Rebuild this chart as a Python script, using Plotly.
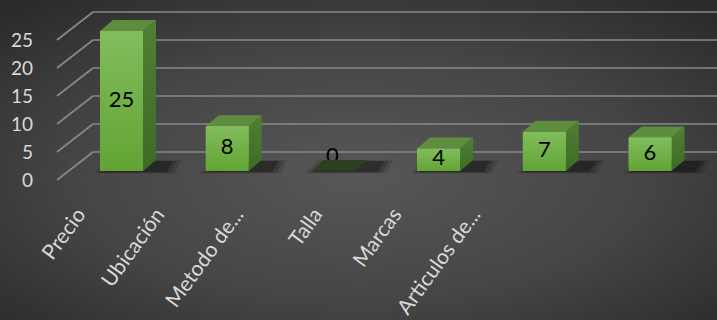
import base64
import plotly.graph_objects as go

# ---------------- data ----------------
categories = ["Precio", "Ubicación", "Metodo de...", "Talla", "Marcas", "Articulos de..."]
values = [25, 8, 0, 4, 7, 6]
y_ticks = [0, 5, 10, 15, 20, 25]

# ---------------- layout constants (pixels) ----------------
W, H = 717, 320
PL, PT, PB = 40, 0, 185          # plot area left / top / bottom pixel
K = 5.6                          # pixels per value unit
BASE = 171                       # pixel row of value 0 on the bar front plane
BAR_C0, BAR_STEP = 121.5, 105.7  # bar centre of first category, spacing
LAB_C0, LAB_STEP = 78, 79        # category label anchor, spacing (perspective)
BACK_L, FRONT_L = 93, 57         # left edge of back wall / front floor edge
FLOOR_BACK, FLOOR_FRONT = 152, 180
DX, DY = 13, 11                  # bar depth offset in pixels
BAR_W = 43

FONT = "Lato, Calibri, 'Open Sans', sans-serif"
TXT = "#d9d9d9"
GRID = "#888888"

y_range = [(BASE - PB) / K, (BASE - PT) / K]
x_range = [(PL - BAR_C0) / BAR_STEP, (W - BAR_C0) / BAR_STEP]
x2_range = [(PL - LAB_C0) / LAB_STEP, (W - LAB_C0) / LAB_STEP]

ddx = DX / BAR_STEP
ddy = DY / K
bw = BAR_W / BAR_STEP
back_off = (BASE - FLOOR_BACK) / K
front_off = (BASE - FLOOR_FRONT) / K


def paper_x(px):
    return (px - PL) / (W - PL)


fig = go.Figure()

idx = list(range(len(categories)))

# soft shadows on the floor (to the right / behind each bar)
for i, v in zip(idx, values):
    xl, xr = i - bw / 2, i + bw / 2
    for grow, alpha in [(0.08, 0.12), (0.04, 0.18), (0.0, 0.25)]:
        x0 = xl + 0.02 - grow
        x1 = xr + ddx + 0.16 + grow
        y0 = -0.2 - grow * 3
        y1 = ddy * 0.9 + grow * 2
        xs = [x0, x1 - 0.06, x1, x0 + ddx, x0]
        ys = [y0, y0, y1, y1, y0]
        fig.add_trace(go.Scatter(x=xs, y=ys, fill="toself", mode="none",
                                 fillcolor=f"rgba(0,0,0,{alpha})", hoverinfo="skip",
                                 showlegend=False))

# side and top faces
for i, v in zip(idx, values):
    xl, xr = i - bw / 2, i + bw / 2
    if v > 0:
        fig.add_trace(go.Scatter(
            x=[xr, xr, xr + ddx, xr + ddx, xr], y=[0, v, v + ddy, ddy, 0],
            fill="toself", mode="none", hoverinfo="skip", showlegend=False,
            fillgradient=dict(type="vertical", colorscale=[[0, "#3d6b27"], [1, "#4f8034"]])))
        top_col = "#5e8d40"
    else:
        top_col = "#2b4021"
    fig.add_trace(go.Scatter(
        x=[xl, xr, xr + ddx, xl + ddx, xl], y=[v, v, v + ddy, v + ddy, v],
        fill="toself", mode="none", fillcolor=top_col, hoverinfo="skip", showlegend=False))

# front faces (bars); only the zero bar carries its label outside
fig.add_trace(go.Bar(
    x=idx, y=values, width=bw,
    marker=dict(color="#6fac46", line=dict(width=0)),
    text=["" if v > 0 else str(v) for v in values],
    textposition="outside",
    constraintext="none",
    textfont=dict(family=FONT, size=22, color="#000000"),
    cliponaxis=False,
    hoverinfo="skip", showlegend=False))

# gradient on front faces
for i, v in zip(idx, values):
    if v <= 0:
        continue
    xl, xr = i - bw / 2, i + bw / 2
    fig.add_trace(go.Scatter(
        x=[xl, xr, xr, xl, xl], y=[0, 0, v, v, 0],
        fill="toself", mode="none", hoverinfo="skip", showlegend=False,
        fillgradient=dict(type="vertical",
                          colorscale=[[0, "rgba(98,164,52,1)"], [1, "rgba(129,189,92,1)"]])))

# data labels centred on the front faces
fig.add_trace(go.Scatter(
    x=[i for i, v in zip(idx, values) if v > 0],
    y=[v / 2 for v in values if v > 0],
    text=[str(v) for v in values if v > 0],
    mode="text", textposition="middle center",
    textfont=dict(family=FONT, size=22, color="#000000"),
    hoverinfo="skip", showlegend=False))

# grid: back wall lines and diagonal side lines
shapes = []
for t in y_ticks:
    shapes.append(dict(type="line", xref="paper", yref="y",
                       x0=paper_x(FRONT_L), y0=t + front_off,
                       x1=paper_x(BACK_L), y1=t + back_off,
                       line=dict(color=GRID, width=1.7), layer="below"))
    shapes.append(dict(type="line", xref="paper", yref="y",
                       x0=paper_x(BACK_L), y0=t + back_off,
                       x1=1, y1=t + back_off,
                       line=dict(color=GRID, width=1.7), layer="below"))

svg = ("<svg xmlns='http://www.w3.org/2000/svg' width='717' height='320' preserveAspectRatio='none'>"
       "<defs><radialGradient id='g' cx='50%' cy='55%' r='72%'>"
       "<stop offset='0' stop-color='#575757'/><stop offset='0.55' stop-color='#454545'/>"
       "<stop offset='1' stop-color='#2a2a2a'/></radialGradient></defs>"
       "<rect width='100%' height='100%' fill='url(#g)'/></svg>")
src = "data:image/svg+xml;base64," + base64.b64encode(svg.encode()).decode()

pw, ph = W - PL, PB - PT
fig.update_layout(
    width=W, height=H,
    margin=dict(l=PL, r=0, t=PT, b=H - PB, pad=0),
    paper_bgcolor="#404040", plot_bgcolor="rgba(0,0,0,0)",
    shapes=shapes,
    images=[dict(source=src, xref="paper", yref="paper",
                 x=-PL / pw, y=1 + PT / ph, sizex=W / pw, sizey=H / ph,
                 xanchor="left", yanchor="top", sizing="stretch", layer="below")],
    xaxis=dict(range=x_range, showticklabels=False, showgrid=False,
               zeroline=False, showline=False, fixedrange=True),
    xaxis2=dict(range=x2_range, overlaying="x", anchor="y", side="bottom",
                tickvals=idx, ticktext=categories, tickangle=-54,
                tickfont=dict(family=FONT, size=21, color=TXT),
                ticklabelstandoff=12,
                showgrid=False, zeroline=False, showline=False, ticks=""),
    yaxis=dict(range=y_range, tickvals=[t + front_off for t in y_ticks],
               ticktext=[str(t) for t in y_ticks],
               tickfont=dict(family=FONT, size=19, color=TXT),
               showgrid=False, zeroline=False, showline=False, ticks="",
               ticklabelstandoff=6, fixedrange=True),
    bargap=0,
    showlegend=False,
)

# anchor trace so xaxis2 is rendered
fig.add_trace(go.Scatter(x=[0], y=[None], xaxis="x2", yaxis="y",
                         mode="markers", hoverinfo="skip", showlegend=False))

fig.write_html("out.html")
